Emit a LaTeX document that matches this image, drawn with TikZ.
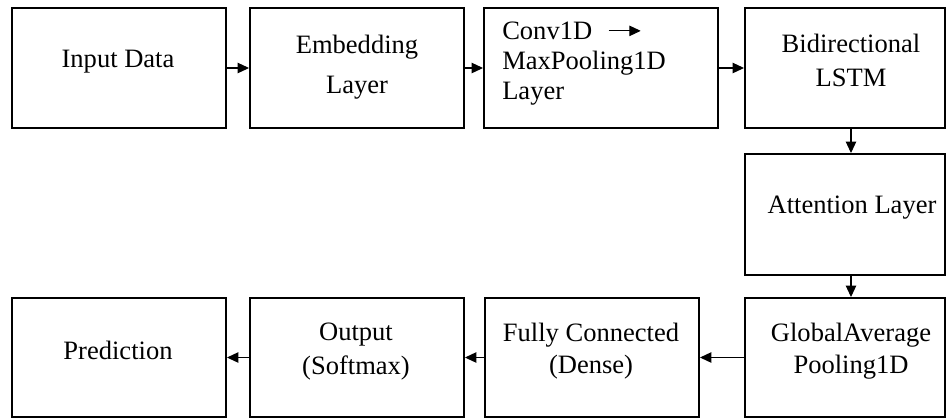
\documentclass[tikz,border=0pt]{standalone}
\usepackage{fontspec}
\setmainfont{Liberation Serif}
\usetikzlibrary{arrows.meta,positioning}

\begin{document}
\begin{tikzpicture}[x=0.75pt,y=-0.75pt,
    blk/.style={draw, line width=1.5pt, inner sep=0pt, minimum width=160.5pt, minimum height=90pt},
    txt/.style={font=\fontsize{19.9}{24}\selectfont, align=center, inner sep=0pt},
    flow/.style={line width=0.8pt, -{Triangle[length=8.5pt,width=7.8pt]}}]
  \useasboundingbox (0,0) rectangle (947,419);
  % first row
  \node[blk] (input) at (119,68) {};
  \node[blk] (embed) at (357,68) {};
  \node[blk, minimum width=175.5pt] (conv) at (601,68) {};
  \node[blk, minimum width=150pt] (bilstm) at (845,68) {};
  \node[txt] (input-t) at (118,62) {Input Data};
  \node[txt, font=\fontsize{19.9}{30}\selectfont] (embed-t) at (357,67) {Embedding\\Layer};
  \node[txt, anchor=west, align=left, font=\fontsize{19.9}{22.5}\selectfont] (conv-t) at (502,64)
    {Conv1D\hspace{12pt}\tikz[baseline=-6.8pt]\draw[line width=0.8pt, -{Triangle[length=8.5pt,width=7.8pt]}] (0,0) -- (24pt,0);\\MaxPooling1D\\Layer};
  \node[txt, font=\fontsize{19.9}{25}\selectfont] (bilstm-t) at (851,60.5) {Bidirectional\\LSTM};
  % right column
  \node[blk, minimum width=150pt, minimum height=90.75pt] (attn) at (845,214.5) {};
  \node[txt] (attn-t) at (852,208) {Attention Layer};
  % last row
  \node[blk, minimum height=89.25pt] (pred) at (119,357.5) {};
  \node[blk, minimum height=89.25pt] (output) at (357,357.5) {};
  \node[blk, minimum height=89.25pt] (dense) at (592,357.5) {};
  \node[blk, minimum width=150pt, minimum height=89.25pt] (gap) at (845,357.5) {};
  \node[txt] (pred-t) at (118,350) {Prediction};
  \node[txt, font=\fontsize{19.9}{26}\selectfont] (output-t) at (356,351.5) {Output\\(Softmax)};
  \node[txt] (dense-t) at (591,351) {Fully Connected\\(Dense)};
  \node[txt] (gap-t) at (851,351) {GlobalAverage\\Pooling1D};
  % connectors
  \draw[flow] (input) -- (embed);
  \draw[flow] (embed) -- (conv);
  \draw[flow] (conv) -- (bilstm);
  \draw[flow] (bilstm.south -| bilstm-t) -- (attn.north -| bilstm-t);
  \draw[flow] (attn.south -| bilstm-t) -- (gap.north -| bilstm-t);
  \draw[flow] (gap) -- (dense);
  \draw[flow] (dense) -- (output);
  \draw[flow] (output) -- (pred);
\end{tikzpicture}
\end{document}
